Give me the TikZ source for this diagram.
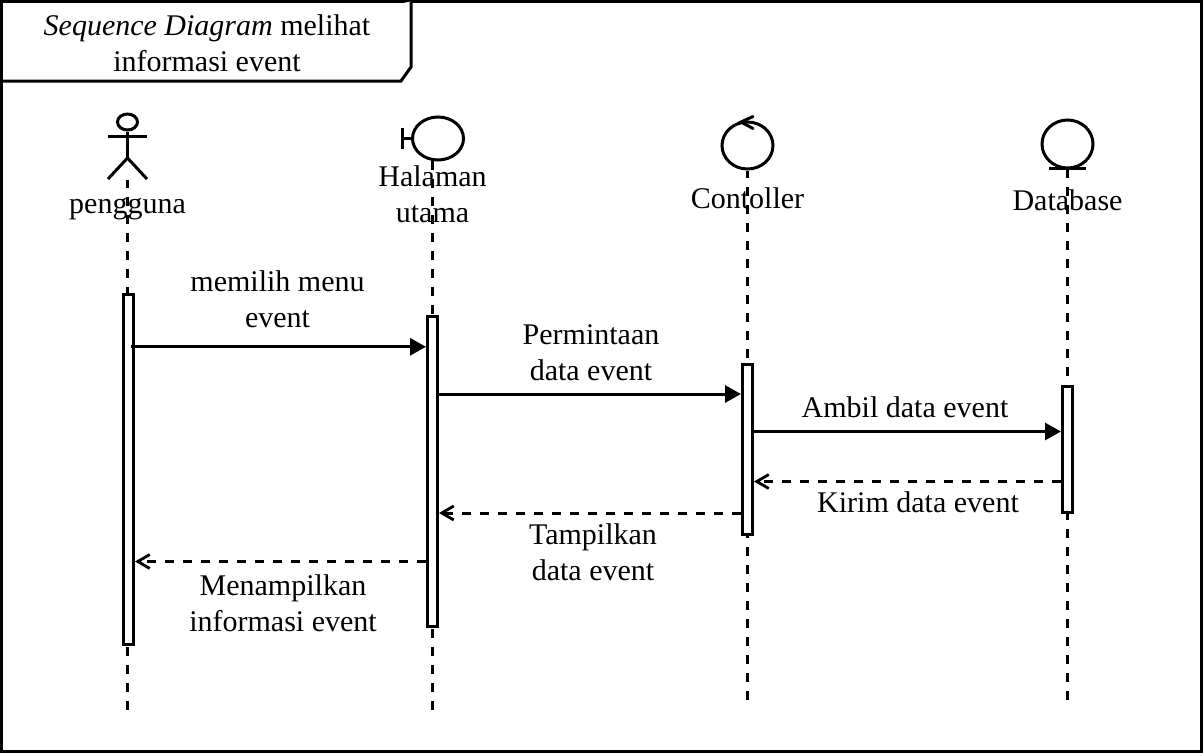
\documentclass[tikz,border=0pt]{standalone}
\usepackage{fontspec}
\setmainfont{Liberation Serif}
\usetikzlibrary{shapes.geometric,arrows.meta}
\tikzset{
  ln/.style={line width=3pt,draw=black},
  icon/.style={ellipse,ln,inner sep=0pt,fill=white},
  lifeline/.style={line width=3pt,dash pattern=on 9pt off 9pt},
  activation/.style={rectangle,ln,fill=white,inner sep=0pt,minimum width=10pt},
  lbl/.style={font=\fontsize{30}{36}\selectfont,align=center,inner sep=0pt,text=black},
  msg/.style={line width=3pt,-{Triangle[length=16pt,width=17pt]}},
  rep/.style={line width=3pt,dash pattern=on 9pt off 9pt,-{Straight Barb[length=12pt,width=14pt,line width=2.8pt]}}
}
\begin{document}
\begin{tikzpicture}[x=1pt,y=-1pt]
\useasboundingbox (0,0) rectangle (1203,753);
\fill[white] (0,0) rectangle (1203,753);
\node[rectangle,ln,minimum width=1200pt,minimum height=750pt,inner sep=0pt] (frame) at (601.5,376.5) {};
\draw[ln,fill=white,line join=miter] (1.5,81) -- (401,81) -- (411,67) -- (411,1.5);
\node[lbl] (title) at (207,43.5) {\textit{Sequence Diagram} melihat\\informasi event};

% labels
\node[lbl] (lp) at (127.5,209) {pengguna};
\node[lbl] (lh) at (432.5,194) {Halaman\\utama};
\node[lbl] (lc) at (747.5,198) {Contoller};
\node[lbl] (ld) at (1067.5,200) {Database};

% icons
\node[icon,minimum width=20pt,minimum height=16pt] (actorhead) at (127.5,122) {};
\coordinate (actorhip) at (127.5,158);
\draw[ln] (108,136) -- (147,136);
\draw[ln] (actorhead.south) -- (actorhip);
\draw[ln] (108,179) -- (actorhip) -- (147,179);

\node[icon,minimum width=51pt,minimum height=43pt] (bnd) at (438,138.5) {};
\draw[ln] (bnd.west) -- (402.5,138.5);
\draw[ln] (402.5,128) -- (402.5,149);

\node[icon,minimum width=51pt,minimum height=47pt] (ctl) at (747.5,145.5) {};
\draw[ln,line cap=round] (753,116.5) -- (741,122) -- (753,128.5);

\node[icon,minimum width=51pt,minimum height=48pt] (dbs) at (1067.5,144) {};
\draw[ln] (1049,168.5) -- (1086,168.5);

% lifelines (drawn upward so the dash ends as in the reference)
\coordinate (e1) at (127.5,709.5);
\coordinate (e2) at (432.5,709.5);
\coordinate (e3) at (747.5,700);
\coordinate (e4) at (1067.5,700);
\coordinate (s1) at (127.5,180);
\draw[lifeline] (e1) -- (s1);
\draw[lifeline] (e2) -- (432.5,160);
\draw[lifeline] (e3) -- (ctl.south);
\draw[lifeline] (e4) -- (dbs.south);

% activations
\node[activation,minimum height=350pt] (a1) at (128.5,469) {};
\node[activation,minimum height=310pt] (a2) at (432.5,471.5) {};
\node[activation,minimum height=170pt] (a3) at (747.5,449) {};
\node[activation,minimum height=126pt] (a4) at (1067.5,449) {};

% messages
\draw[msg] ([xshift=-4pt]a1.east |- 0,346.8) -- (a2.west |- 0,346.8);
\draw[msg] (a2.east |- 0,394) -- (a3.west |- 0,394);
\draw[msg] (a3.east |- 0,431.5) -- (a4.west |- 0,431.5);
\draw[rep] (a4.west |- 0,481.5) -- (a3.east |- 0,481.5);
\draw[rep] (a3.west |- 0,513) -- (a2.east |- 0,513);
\draw[rep] (a2.west |- 0,561.5) -- (a1.east |- 0,561.5);

% message labels
\node[lbl] (m1) at (277.5,299) {memilih menu\\event};
\node[lbl] (m2) at (591,353) {Permintaan\\data event};
\node[lbl] (m3) at (905,407) {Ambil data event};
\node[lbl] (m4) at (918,502) {Kirim data event};
\node[lbl] (m5) at (593,552) {Tampilkan\\data event};
\node[lbl] (m6) at (283,603) {Menampilkan\\informasi event};
\end{tikzpicture}
\end{document}
